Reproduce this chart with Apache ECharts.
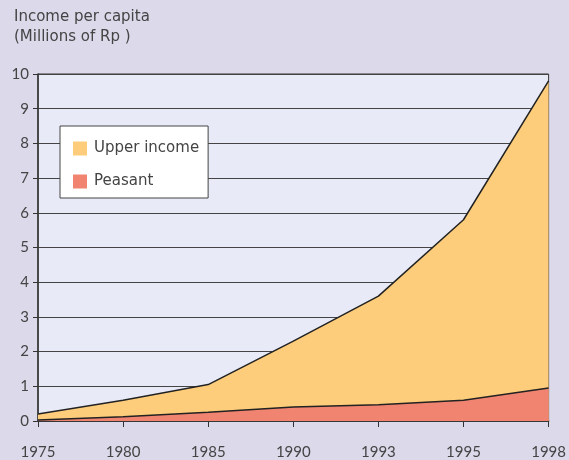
<!DOCTYPE html>
<html><head><meta charset="utf-8">
<script src="https://cdn.jsdelivr.net/npm/echarts@6/dist/echarts.min.js"></script>
<style>html,body{margin:0;padding:0;background:#dbd9ea;}#c{width:569px;height:460px;}</style>
</head><body><div id="c"></div>
<script>
const years = ['1975','1980','1985','1990','1993','1995','1998'];
const upperIncome = [0.2, 0.6, 1.05, 2.3, 3.6, 5.8, 9.8];
const peasant = [0.03, 0.12, 0.25, 0.4, 0.47, 0.6, 0.95];
const numFont = 'Lato, "DejaVu Sans", sans-serif';
const txtFont = '"DejaVu Sans", sans-serif';
const chart = echarts.init(document.getElementById('c'));
chart.setOption({
  backgroundColor: '#dbd9ea',
  animation: false,
  textStyle: {fontFamily: numFont},
  title: {
    text: 'Income per capita\n(Millions of Rp )',
    left: 14, top: 7, padding: 0,
    textStyle: {fontSize: 15, fontWeight: 'normal', color: '#444', lineHeight: 20, fontFamily: txtFont}
  },
  grid: {left: 38, right: 17, top: 74, bottom: 38, show: true, backgroundColor: '#e8ebf7', borderColor: '#333', borderWidth: 1},
  legend: {
    left: 60, top: 126,
    orient: 'vertical',
    backgroundColor: '#ffffff', borderColor: '#444', borderWidth: 1,
    padding: [15, 9, 9, 13], itemGap: 18,
    itemWidth: 14, itemHeight: 14,
    icon: 'rect',
    textStyle: {fontSize: 15, color: '#444', fontFamily: txtFont, padding: [0, 0, 0, 2]},
    data: ['Upper income', 'Peasant']
  },
  xAxis: {
    type: 'category', data: years, boundaryGap: false,
    axisLine: {lineStyle: {color: '#333', width: 1.5}},
    axisTick: {show: true, length: 6, lineStyle: {color: '#333'}},
    axisLabel: {fontSize: 15, color: '#444', margin: 24, fontFamily: numFont}
  },
  yAxis: {
    type: 'value', min: 0, max: 10, interval: 1,
    axisLine: {show: true, lineStyle: {color: '#333', width: 1.5}},
    axisTick: {show: true, length: 5, lineStyle: {color: '#333'}},
    axisLabel: {fontSize: 15, color: '#444', margin: 9, fontFamily: numFont},
    splitLine: {lineStyle: {color: '#444', width: 1}}
  },
  series: [
    {name: 'Upper income', type: 'line', data: upperIncome, symbol: 'none',
     lineStyle: {color: '#222', width: 1.5}, itemStyle: {color: '#fecd7b'},
     areaStyle: {color: '#fecd7b', opacity: 1}, z: 2},
    {name: 'Peasant', type: 'line', data: peasant, symbol: 'none',
     lineStyle: {color: '#222', width: 1.5}, itemStyle: {color: '#f08471'},
     areaStyle: {color: '#f08471', opacity: 1}, z: 3}
  ]
});
</script></body></html>
